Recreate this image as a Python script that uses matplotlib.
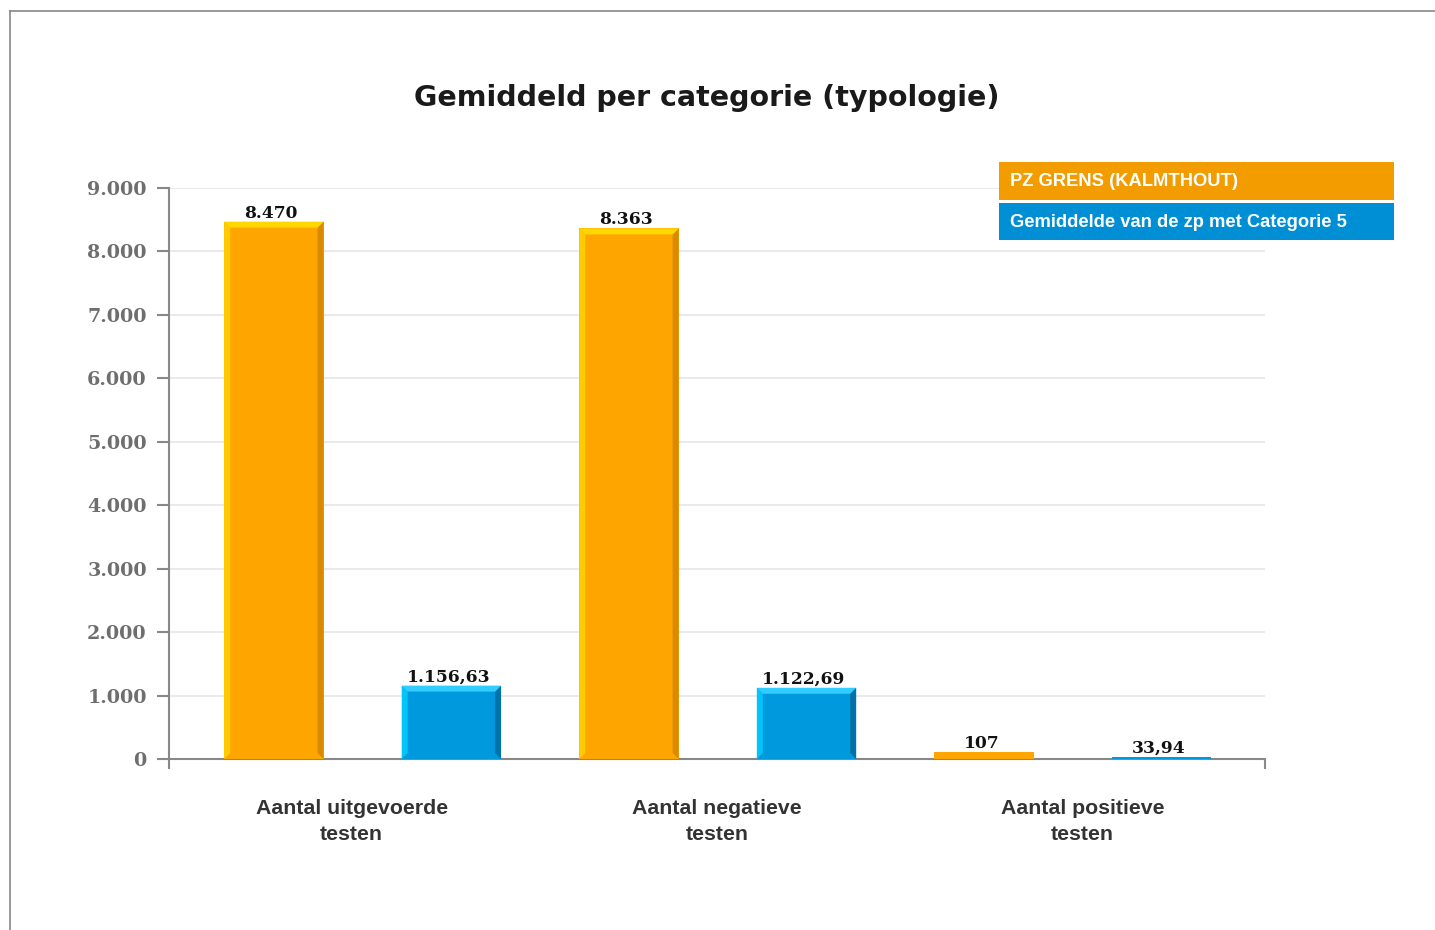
import matplotlib
matplotlib.use("Agg")
import matplotlib.pyplot as plt
from matplotlib.patches import Polygon, Rectangle
from matplotlib.lines import Line2D

categories = ["Aantal uitgevoerde\ntesten", "Aantal negatieve\ntesten", "Aantal positieve\ntesten"]
series_names = ["PZ GRENS (KALMTHOUT)", "Gemiddelde van de zp met Categorie 5"]
pz_values = [8470, 8363, 107]
avg_values = [1156.63, 1122.69, 33.94]
yticks = [0, 1000, 2000, 3000, 4000, 5000, 6000, 7000, 8000, 9000]
title = "Gemiddeld per categorie (typologie)"

W, H = 1435, 930
fig = plt.figure(figsize=(W / 100, H / 100), dpi=100)
fig.patch.set_facecolor("white")


def fx(px):
    return px / W


def fy(py):
    return 1 - py / H


ax = fig.add_axes([fx(169), fy(759), fx(1265) - fx(169), fy(188) - fy(759)])
ax.set_xlim(0, 3)
ax.set_ylim(0, 9000)


def fmt(v):
    if abs(v - round(v)) < 1e-9:
        s = f"{int(round(v)):,}".replace(",", ".")
    else:
        s = f"{v:,.2f}".replace(",", "X").replace(".", ",").replace("X", ".")
    return s


# grid
for t in yticks[1:]:
    ax.axhline(t, color="#e6e6e6", lw=1.2, zorder=0)

ax.set_yticks(yticks)
ax.set_yticklabels([fmt(t) for t in yticks], fontfamily="DejaVu Serif",
                   fontweight="bold", fontsize=13.8, color="#6e6e6e")
ax.tick_params(axis="y", direction="out", length=9, width=1.5, color="#888888", pad=7)
ax.set_xticks([0, 3])
ax.set_xticklabels(["", ""])
ax.tick_params(axis="x", which="major", direction="out", length=7, width=1.5, color="#888888")
ax.set_xticks([0.5, 1.5, 2.5], minor=True)
ax.set_xticklabels(categories, minor=True, fontfamily="Liberation Sans",
                   fontweight="bold", fontsize=15.3, color="#333333", linespacing=1.45)
ax.tick_params(axis="x", which="minor", length=0, pad=29)

for s in ["top", "right"]:
    ax.spines[s].set_visible(False)
for s in ["left", "bottom"]:
    ax.spines[s].set_color("#888888")
    ax.spines[s].set_linewidth(1.5)
    ax.spines[s].set_zorder(2)

bar_w = 0.272
first_slot = 0.287
slot_step = 0.486
palettes = [
    dict(main="#ffa500", left="#ffcc00", top="#ffd800", right="#d88a00"),
    dict(main="#0099dd", left="#00c4fa", top="#33ccff", right="#0072aa"),
]
px_per_x = (1265 - 169) / 3.0
px_per_y = (759 - 188) / 9000.0
bev_px = 6

for si, vals in enumerate([pz_values, avg_values]):
    pal = palettes[si]
    xs = [first_slot + (2 * i + si) * slot_step for i in range(len(vals))]
    ax.bar(xs, vals, width=bar_w, color=pal["main"], zorder=3, linewidth=0)
    for x, v in zip(xs, vals):
        x0, x1 = x - bar_w / 2, x + bar_w / 2
        if v * px_per_y > 20:
            bx = bev_px / px_per_x
            by = bev_px / px_per_y
            ax.add_patch(Polygon([[x0, 0], [x0 + bx, by], [x0 + bx, v - by], [x0, v]],
                                 closed=True, color=pal["left"], lw=0, zorder=4))
            ax.add_patch(Polygon([[x1, 0], [x1 - bx, by], [x1 - bx, v - by], [x1, v]],
                                 closed=True, color=pal["right"], lw=0, zorder=4))
            ax.add_patch(Polygon([[x0, v], [x1, v], [x1 - bx, v - by], [x0 + bx, v - by]],
                                 closed=True, color=pal["top"], lw=0, zorder=4))
        ax.annotate(fmt(v), (x, v), xytext=(-2, 0), textcoords="offset points",
                    ha="center", va="bottom", fontfamily="DejaVu Serif",
                    fontweight="bold", fontsize=12.3, color="#111111", zorder=5)

# title
fig.text(fx(707), fy(98), title, ha="center", va="center", fontfamily="DejaVu Sans",
         fontweight="bold", fontsize=20.5, color="#1a1a1a")

# legend boxes
leg_colors = ["#f39c00", "#008fd5"]
leg_rows = [(162, 200), (203, 240)]
for name, c, (y0, y1) in zip(series_names, leg_colors, leg_rows):
    fig.patches.append(Rectangle((fx(999), fy(y1)), fx(1394) - fx(999), fy(y0) - fy(y1),
                                 transform=fig.transFigure, color=c, lw=0, zorder=1))
    fig.text(fx(1010), fy((y0 + y1) / 2 + 1), name, ha="left", va="center",
             fontfamily="Liberation Sans", fontweight="bold", fontsize=13.2, color="white")

# outer frame lines
fig.add_artist(Line2D([fx(10), fx(1435)], [fy(11), fy(11)], transform=fig.transFigure,
                      color="#888888", lw=1.2))
fig.add_artist(Line2D([fx(10), fx(10)], [fy(11), fy(930)], transform=fig.transFigure,
                      color="#888888", lw=1.2))

fig.savefig("out.png", dpi=100, facecolor="white")
